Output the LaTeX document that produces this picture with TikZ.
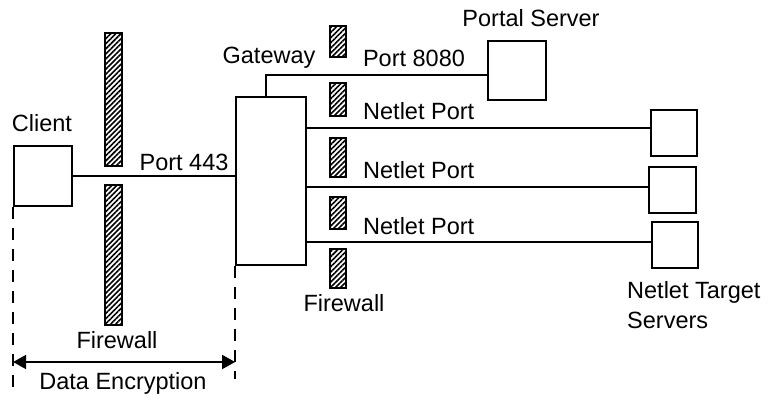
\documentclass[tikz,border=0pt]{standalone}
\usepackage{fontspec}
\setmainfont{Liberation Sans}
\usetikzlibrary{patterns.meta,arrows.meta}
\begin{document}
\begin{tikzpicture}[x=1pt,y=-1pt,
  box/.style={draw,line width=1.8pt,minimum width=#1,inner sep=0pt},
  wall/.style={draw,line width=1.8pt,pattern={Lines[angle=45,distance=3.6pt,line width=1.6pt]},inner sep=0pt},
  lbl/.style={font=\fontsize{23.5}{28}\selectfont,inner sep=0pt},
  conn/.style={line width=1.8pt},
  dashline/.style={line width=1.8pt,dash pattern=on 12pt off 9pt}]
\useasboundingbox (0,0) rectangle (768,399);
% boxes
\node[box=58pt,minimum height=60pt] (client) at (43,176) {};
\node[box=70pt,minimum height=168pt] (gateway) at (271,181) {};
\node[box=58pt,minimum height=59pt] (portal) at (517,70.5) {};
\node[box=46pt,minimum height=46pt] (t1) at (674,133) {};
\node[box=47pt,minimum height=46pt] (t2) at (672.5,190) {};
\node[box=46pt,minimum height=46pt] (t3) at (675,245) {};
% firewalls
\node[wall,minimum width=17pt,minimum height=133pt] (fwa) at (113.5,99.5) {};
\node[wall,minimum width=17pt,minimum height=140pt] (fwb) at (113.5,255) {};
\node[wall,minimum width=16pt,minimum height=31pt] (fw1) at (338,41.5) {};
\node[wall,minimum width=16pt,minimum height=33pt] (fw2) at (338,99.5) {};
\node[wall,minimum width=16pt,minimum height=39pt] (fw3) at (338,157.5) {};
\node[wall,minimum width=16pt,minimum height=32pt] (fw4) at (338,213) {};
\node[wall,minimum width=16pt,minimum height=39pt] (fw5) at (338,268.5) {};
% labels
\node[lbl] (lclient) at (42,123) {Client};
\node[lbl] (l443) at (184,162) {Port 443};
\node[lbl] (lgw) at (269,58) {Gateway};
\node[lbl] (l8080) at (414,58) {Port 8080};
\node[lbl] (lportal) at (531,18) {Portal Server};
\node[lbl,anchor=west] (ln1) at (363,111) {Netlet Port};
\node[lbl,anchor=west] (ln2) at (363,170) {Netlet Port};
\node[lbl,anchor=west] (ln3) at (363,226) {Netlet Port};
\node[lbl,anchor=west] (lnt1) at (627,292) {Netlet Target};
\node[lbl,anchor=west] (lnt2) at (627,320) {Servers};
\node[lbl] (lfw2) at (344,303) {Firewall};
\node[lbl] (lfw1) at (117,340) {Firewall};
\node[lbl] (lenc) at (123,383) {Data Encryption};
% connectors
\draw[conn] (client.east) -- (client.east -| gateway.west);
\draw[conn] ([xshift=-5pt]gateway.north) |- ([yshift=-4.5pt]portal.west);
\draw[conn] ([yshift=5pt]t1.west -| gateway.east) -- ([yshift=5pt]t1.west);
\draw[conn] ([yshift=3pt]t2.west -| gateway.east) -- ([yshift=3pt]t2.west);
\draw[conn] ([yshift=3pt]t3.west -| gateway.east) -- ([yshift=3pt]t3.west);
% dashed boundaries
\coordinate (dl) at (client.south west |- 0,390);
\coordinate (dr) at (gateway.south west |- 0,379);
\draw[dashline] (client.south west) -- (dl);
\draw[dashline] (gateway.south west) -- (dr);
\draw[line width=1.8pt,{Triangle[length=13pt,width=14pt]}-{Triangle[length=13pt,width=14pt]}]
  (client.west |- 0,362) -- (gateway.west |- 0,362);
\end{tikzpicture}
\end{document}
